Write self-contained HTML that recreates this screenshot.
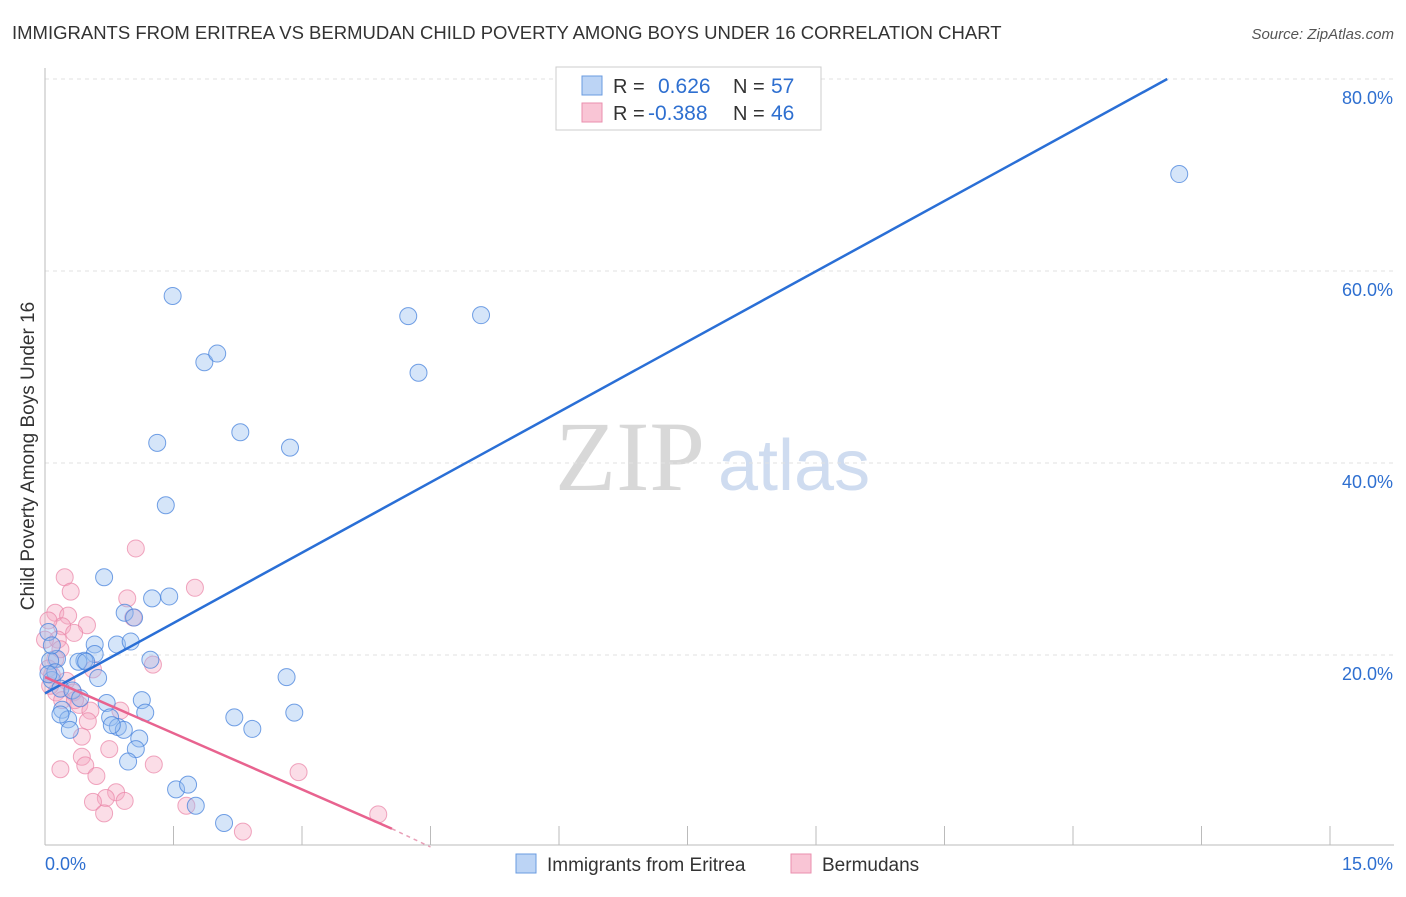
<!DOCTYPE html>
<html><head><meta charset="utf-8"><style>
body{margin:0;background:#fff;font-family:"Liberation Sans",sans-serif;}
</style></head><body>
<svg id="c" width="1406" height="892" xmlns="http://www.w3.org/2000/svg" font-family="Liberation Sans, sans-serif">
<text x="12" y="39" font-size="18.5" fill="#333">IMMIGRANTS FROM ERITREA VS BERMUDAN CHILD POVERTY AMONG BOYS UNDER 16 CORRELATION CHART</text>
<text x="1394" y="39" font-size="15" fill="#555" font-style="italic" text-anchor="end">Source: ZipAtlas.com</text>
<text x="34" y="456" font-size="19" fill="#333" text-anchor="middle" transform="rotate(-90 34 456)">Child Poverty Among Boys Under 16</text>
<g><text x="555" y="490" font-size="100" fill="#d8d8d8" style="font-family:'Liberation Serif',serif">ZIP</text><text x="718" y="490" font-size="72" fill="#cfdcf0">atlas</text></g>
<g id="grid"></g><g id="pts"></g><g id="lines"></g>
<g>
<rect x="556" y="67" width="265" height="63" fill="#fff" stroke="#ccc"/>
<rect x="582" y="76" width="20" height="19" fill="#bcd4f5" stroke="#6a9be0"/>
<rect x="582" y="103" width="20" height="19" fill="#f9c5d5" stroke="#ea8fae"/>
<text x="613" y="93" font-size="20" fill="#333">R =</text><text x="658" y="93" font-size="21" fill="#2e6fd0">0.626</text>
<text x="733" y="93" font-size="20" fill="#333">N =</text><text x="771" y="93" font-size="21" fill="#2e6fd0">57</text>
<text x="613" y="120" font-size="20" fill="#333">R =</text><text x="648" y="120" font-size="21" fill="#2e6fd0">-0.388</text>
<text x="733" y="120" font-size="20" fill="#333">N =</text><text x="771" y="120" font-size="21" fill="#2e6fd0">46</text>
</g>
<g>
<rect x="516" y="854" width="20" height="19" fill="#bcd4f5" stroke="#6a9be0"/>
<text x="547" y="871" font-size="19" fill="#333">Immigrants from Eritrea</text>
<rect x="791" y="854" width="20" height="19" fill="#f9c5d5" stroke="#ea8fae"/>
<text x="822" y="871" font-size="19" fill="#333">Bermudans</text>
</g>
<text x="45" y="870" font-size="18" fill="#2e6fd0">0.0%</text>
<text x="1393" y="870" font-size="18" fill="#2e6fd0" text-anchor="end">15.0%</text>
</svg>
<script>
const yTicks=[20,40,60,80];
const xTicks=[0,1.5,3,4.5,6,7.5,9,10.5,12,13.5,15];
const blueX=[1.49,1.86,2.01,1.31,2.28,2.86,4.24,5.09,4.36,1.41,13.24,0.69,1.25,1.45,0.93,1.04,0.84,1.0,0.58,0.58,0.46,0.39,0.14,0.06,1.23,0.08,0.62,2.82,0.18,0.32,0.41,0.72,1.13,0.2,1.17,2.21,2.91,0.27,0.76,0.29,0.85,0.92,2.42,1.1,1.06,0.97,1.53,1.67,1.76,2.09,0.04,0.08,0.12,0.04,0.78,0.18,0.48];
const blueY=[57.4,50.5,51.4,42.1,43.2,41.6,55.3,55.4,49.4,35.6,70.1,28.1,25.9,26.1,24.4,23.9,21.1,21.4,21.1,20.1,19.4,19.3,19.6,19.4,19.5,17.4,17.6,17.7,16.5,16.3,15.5,15.0,15.3,14.3,14.0,13.5,14.0,13.3,13.5,12.2,12.5,12.2,12.3,11.3,10.2,8.9,6.0,6.5,4.3,2.5,22.4,21.0,18.2,18.0,12.7,13.8,19.3];
const pinkX=[1.06,0.23,0.3,1.75,0.96,0.12,0.27,1.03,0.49,0.2,0.34,0.15,0.04,0.12,0.56,1.26,0.08,0.25,0.33,0.4,0.53,0.88,0.5,0.43,0.75,0.18,0.43,0.47,0.6,1.27,2.96,0.83,0.71,0.56,0.93,0.69,1.65,2.31,3.89,0.13,0.2,0.35,0.06,0.18,0.04,0];
const pinkY=[31.1,28.1,26.6,27.0,25.9,24.4,24.1,23.9,23.1,23.0,22.3,21.6,23.6,19.6,18.5,19.0,17.9,17.3,16.1,14.8,14.2,14.2,13.1,11.5,10.2,8.1,9.4,8.5,7.4,8.6,7.8,5.7,5.1,4.7,4.8,3.5,4.3,1.6,3.4,16.1,15.3,15.3,16.8,20.6,18.6,21.6];
const blueLine=[0,16.0,13.1,80];
const pinkLine=[0,17.7,4.05,1.9,4.5,0];
const X0=45,X1=1330,Y0=847,Y1=79;
const sx=v=>X0+(X1-X0)*v/15, sy=v=>Y0-(Y0-Y1)*v/80;
const NS="http://www.w3.org/2000/svg";
function mk(t,a,p){const e=document.createElementNS(NS,t);for(const k in a)e.setAttribute(k,a[k]);p.appendChild(e);return e;}
const g=document.getElementById('grid');
yTicks.forEach(t=>{
 const l=mk('line',{x1:45,x2:1394,y1:sy(t),y2:sy(t),stroke:'#e2e2e2','stroke-dasharray':'4 4'},g);
 
 
 const tx=mk('text',{x:1393,y:sy(t)+25,'font-size':18,fill:'#2e6fd0','text-anchor':'end'},g);tx.textContent=t.toFixed(1)+'%';
 
 
});
const ax=mk('line',{x1:45,x2:1394,y1:845,y2:845,stroke:'#bbb'},g);


const ay=mk('line',{x1:45,x2:45,y1:68,y2:845,stroke:'#bbb'},g);


xTicks.forEach(t=>{const l=mk('line',{x1:sx(t),x2:sx(t),y1:826,y2:845,stroke:'#bbb'},g);
 
 });
const p=document.getElementById('pts');
pinkX.forEach((x,i)=>{const c=mk('circle',{cx:sx(x),cy:sy(pinkY[i]),r:8.5,fill:'rgba(246,170,195,0.4)',stroke:'rgba(234,130,165,0.7)'},p);
 
 });
blueX.forEach((x,i)=>{const c=mk('circle',{cx:sx(x),cy:sy(blueY[i]),r:8.5,fill:'rgba(150,190,240,0.4)',stroke:'rgba(70,130,220,0.75)'},p);
 
 });
const L=document.getElementById('lines');
const bl=mk('line',{x1:sx(blueLine[0]),y1:sy(blueLine[1]),x2:sx(blueLine[2]),y2:sy(blueLine[3]),stroke:'#2a6fd6','stroke-width':2.5},L);


const pl=mk('line',{x1:sx(pinkLine[0]),y1:sy(pinkLine[1]),x2:sx(pinkLine[2]),y2:sy(pinkLine[3]),stroke:'#e8638f','stroke-width':2.5},L);


const pd=mk('line',{x1:sx(pinkLine[2]),y1:sy(pinkLine[3]),x2:sx(pinkLine[4]),y2:sy(pinkLine[5]),stroke:'#e8a0b8','stroke-width':1.5,'stroke-dasharray':'4 4'},L);


</script>
</body></html>
